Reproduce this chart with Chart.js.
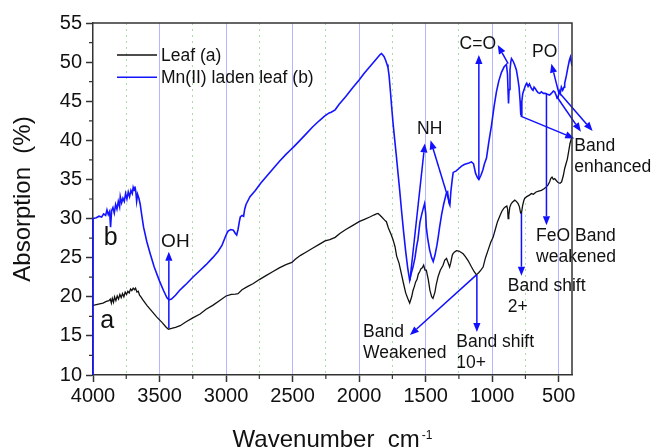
<!DOCTYPE html>
<html><head><meta charset="utf-8">
<script src="https://cdn.jsdelivr.net/npm/chart.js@4/dist/chart.umd.min.js"></script>
<style>html,body{margin:0;padding:0;background:#fff;}canvas{display:block;}</style>
</head><body>
<canvas id="c" width="656" height="447"></canvas>
<script>
// ---------- data (wavenumber cm-1 / absorption %) ----------
const leafX = [4000,3975,3950,3925,3900,3880,3870,3862,3855,3846,3838,3828,3818,3808,3798,3788,3778,3768,3758,3748,3738,3728,3718,3708,3698,3688,3680,3670,3660,3650,3640,3625,3595,3560,3520,3480,3450,3433,3410,3380,3345,3300,3250,3195,3150,3100,3050,3000,2960,2930,2910,2880,2840,2795,2750,2700,2650,2600,2550,2520,2505,2480,2440,2400,2350,2300,2256,2220,2180,2145,2100,2050,2000,1960,1920,1890,1870,1858,1845,1830,1808,1795,1780,1760,1745,1730,1718,1700,1683,1665,1650,1635,1620,1605,1595,1585,1575,1565,1555,1545,1535,1525,1515,1505,1495,1480,1468,1455,1445,1430,1420,1406,1390,1370,1356,1343,1330,1320,1312,1300,1293,1280,1268,1250,1235,1218,1200,1180,1155,1135,1118,1100,1085,1068,1050,1030,1010,993,975,960,943,928,913,900,890,884,880,875,868,860,848,830,818,805,795,786,780,772,762,755,740,720,705,690,670,650,630,610,593,580,568,560,550,540,530,520,505,490,478,465,455,445,435,425,415,405,400];
const leafY = [18.9,19.0,19.1,19.2,19.4,19.5,19.7,19.2,19.8,19.3,20.0,19.5,20.1,19.7,20.3,19.9,20.4,20.0,20.6,20.3,20.7,20.5,21.0,20.8,21.1,20.9,21.1,20.6,20.7,20.2,20.0,19.6,18.9,18.2,17.4,16.7,16.1,15.85,15.95,16.1,16.3,16.8,17.3,17.8,18.4,18.9,19.5,20.1,20.3,20.35,20.4,20.9,21.3,21.7,22.2,22.7,23.2,23.7,24.1,24.3,24.4,24.8,25.3,25.7,26.2,26.7,27.15,27.3,27.6,28.1,28.6,29.1,29.6,29.9,30.2,30.45,30.6,30.65,30.45,30.2,29.8,29.6,28.8,28.0,27.3,26.4,25.2,24.3,23.0,21.6,20.5,19.8,19.2,20.0,20.8,21.3,21.9,22.2,22.9,23.2,23.6,23.7,24.05,23.4,23.4,22.2,20.85,20.0,19.8,20.6,21.6,22.6,23.4,24.0,24.7,24.9,24.3,23.8,24.3,25.3,25.55,25.75,25.9,25.85,25.7,25.5,25.1,24.6,23.8,23.2,22.8,23.1,23.4,23.8,25.0,26.0,27.0,27.6,28.7,29.6,30.3,30.9,31.3,31.5,31.6,31.2,30.0,30.4,31.4,31.8,32.1,32.35,32.2,31.9,31.5,30.7,30.65,31.6,32.3,32.6,32.8,33.0,33.2,33.1,33.4,33.5,33.6,33.8,34.05,34.3,34.7,35.1,35.3,35.0,35.1,34.9,34.6,34.5,34.7,35.5,36.4,37.0,37.6,38.6,39.6,40.2,40.3];

const mnX = [4000,3975,3955,3935,3920,3905,3895,3885,3875,3868,3860,3850,3840,3830,3820,3810,3800,3795,3785,3775,3765,3755,3745,3735,3725,3715,3705,3698,3690,3685,3678,3672,3665,3655,3645,3635,3620,3595,3570,3540,3500,3470,3445,3430,3410,3380,3350,3320,3295,3250,3200,3150,3100,3060,3030,3000,2985,2965,2945,2930,2920,2910,2900,2893,2880,2868,2860,2850,2820,2780,2740,2700,2650,2600,2550,2520,2490,2450,2400,2350,2300,2260,2225,2210,2180,2150,2100,2050,2000,1960,1920,1880,1850,1840,1832,1822,1812,1800,1790,1783,1775,1765,1755,1745,1732,1720,1707,1695,1680,1665,1650,1635,1620,1608,1595,1580,1568,1558,1543,1530,1518,1508,1500,1495,1485,1470,1455,1443,1430,1415,1405,1395,1380,1365,1345,1335,1325,1318,1310,1300,1293,1270,1250,1230,1210,1193,1175,1155,1140,1125,1110,1100,1085,1070,1058,1043,1025,1005,985,968,950,930,910,893,885,880,877,873,866,860,855,845,832,818,808,798,790,785,781,777,770,760,750,740,730,720,710,700,693,685,675,665,655,643,630,615,600,585,568,555,540,530,520,512,505,495,488,480,470,460,455,442,430,420,412,405,400];
const mnY = [30.0,30.1,30.3,30.2,30.6,30.4,31.1,30.5,30.9,28.9,31.0,31.4,30.7,31.8,31.2,32.2,31.5,32.8,32.0,32.6,32.2,33.2,32.5,33.4,32.8,33.6,33.2,34.0,33.6,34.1,33.4,32.2,33.1,32.6,31.8,30.6,28.9,27.0,25.5,23.8,22.0,20.8,19.9,19.6,19.7,20.2,20.8,21.3,21.7,22.5,23.3,24.1,25.0,25.8,26.6,27.9,28.4,28.6,28.5,28.1,27.9,28.6,29.6,30.2,30.4,30.3,31.2,31.8,32.8,33.6,34.5,35.3,36.3,37.3,38.2,38.7,39.2,39.9,40.8,41.7,42.5,43.1,43.5,43.6,43.9,44.6,45.6,46.7,47.7,48.6,49.4,50.2,50.8,51.0,51.1,50.9,50.7,50.2,49.7,49.3,48.3,46.3,44.2,42.2,40.0,38.0,35.7,33.6,30.8,28.2,25.8,23.7,22.1,23.0,23.8,25.0,26.4,27.3,29.5,30.5,31.3,31.9,30.7,28.9,27.5,26.0,25.0,24.5,25.3,26.6,27.7,28.9,30.5,31.8,33.2,33.4,32.0,31.7,33.5,35.0,35.9,36.1,36.4,36.7,36.9,37.0,37.1,37.25,37.0,35.8,35.2,35.0,35.5,36.2,37.0,37.7,39.8,41.9,44.4,46.2,47.6,48.7,49.4,49.7,48.5,46.0,44.7,46.5,49.0,50.0,50.45,50.2,49.7,49.0,48.0,46.8,45.0,43.3,43.2,45.0,46.0,46.5,47.0,47.3,46.9,47.2,46.8,46.5,46.4,46.8,46.6,46.3,46.1,46.0,46.2,46.0,46.0,45.9,45.8,46.0,46.3,46.2,45.8,45.4,45.5,46.3,46.0,46.8,46.4,46.8,47.3,48.3,49.4,50.2,50.65,50.0,49.5];

const seriesNames = ['Leaf (a)', 'Mn(II) laden leaf (b)'];
const seriesColors = ['#111111', '#1414ff'];

const xMajorTicks = [4000,3500,3000,2500,2000,1500,1000,500];
const xMinorTicks = [3750,3250,2750,2250,1750,1250,750];
const yMajorTicks = [10,15,20,25,30,35,40,45,50,55];
const yMinorTicks = [12.5,17.5,22.5,27.5,32.5,37.5,42.5,47.5,52.5];

// annotation text: [wavenumber, absorption] of first line's left baseline
const labelTexts = [['b'],['a'],['OH'],['C=O'],['NH'],['PO'],['Band','enhanced'],['FeO Band','weakened'],['Band shift','2+'],['Band shift','10+'],['Band','Weakened']];
const labelAnchors = [[3920,26.6],[3945,15.95],[3488,26.4],[1245,51.64],[1565,40.76],[700,50.6],[383,38.61],[670,27.18],[883,20.79],[1270,13.64],[1970,14.92]];
const labelSizes = [25,25,19,17.5,17.5,17.5,17.5,17.5,17.5,17.5,17.5];

// arrows: tail -> head, in data units
const arrowTails = [[3430,16.0],[1618,22.1],[1318,31.9],[1100,35.0],[880,49.8],[497,45.9],[786,43.1],[515,45.6],[490,46.0],[592,46.0],[780,30.7],[1115,22.8],[1118,22.8]];
const arrowHeads = [[3430,25.75],[1506,39.6],[1463,40.0],[1100,50.9],[958,52.2],[555,49.8],[383,40.25],[333,41.1],[245,41.2],[592,29.15],[780,22.7],[1115,15.5],[1618,15.1]];

const FONT = '"Liberation Sans", Arial, Helvetica, sans-serif';
const AXIS_COLOR = '#333333';

function isMajorX(v){ return xMajorTicks.includes(v); }
function isMajorY(v){ return yMajorTicks.includes(v); }

function drawArrow(ctx, x1, y1, x2, y2){
  const a = Math.atan2(y2 - y1, x2 - x1);
  const L = 9, W = 3.6;
  const bx = x2 - L * Math.cos(a), by = y2 - L * Math.sin(a);
  ctx.beginPath(); ctx.moveTo(x1, y1); ctx.lineTo(bx, by); ctx.stroke();
  ctx.beginPath();
  ctx.moveTo(x2, y2);
  ctx.lineTo(bx + W * Math.sin(a), by - W * Math.cos(a));
  ctx.lineTo(bx - W * Math.sin(a), by + W * Math.cos(a));
  ctx.closePath(); ctx.fill();
}

const decorPlugin = {
  id: 'decor',
  afterDatasetsDraw(chart){
    const {ctx, scales: {x, y}} = chart;
    ctx.save();
    // curve b vertical start along the left axis
    ctx.strokeStyle = seriesColors[1]; ctx.lineWidth = 1.6;
    ctx.beginPath(); ctx.moveTo(x.getPixelForValue(4000), y.getPixelForValue(10));
    ctx.lineTo(x.getPixelForValue(4000), y.getPixelForValue(mnY[0])); ctx.stroke();
    // arrows
    ctx.strokeStyle = '#1010ff'; ctx.fillStyle = '#1010ff'; ctx.lineWidth = 1.5;
    for (let i = 0; i < arrowTails.length; i++){
      drawArrow(ctx, x.getPixelForValue(arrowTails[i][0]), y.getPixelForValue(arrowTails[i][1]),
                     x.getPixelForValue(arrowHeads[i][0]), y.getPixelForValue(arrowHeads[i][1]));
    }
    // annotation texts
    ctx.fillStyle = '#111'; ctx.textAlign = 'left'; ctx.textBaseline = 'alphabetic';
    for (let i = 0; i < labelTexts.length; i++){
      ctx.font = labelSizes[i] + 'px ' + FONT;
      const px = x.getPixelForValue(labelAnchors[i][0]);
      const py = y.getPixelForValue(labelAnchors[i][1]);
      labelTexts[i].forEach((t, k) => ctx.fillText(t, px, py + k * 21));
    }
    ctx.restore();
  },
  afterDraw(chart){
    const {ctx, chartArea: ca, scales: {x, y}} = chart;
    ctx.save();
    // frame top & right
    ctx.strokeStyle = AXIS_COLOR; ctx.lineWidth = 1.5;
    ctx.beginPath();
    ctx.moveTo(ca.left, ca.top); ctx.lineTo(ca.right, ca.top); ctx.lineTo(ca.right, ca.bottom);
    ctx.stroke();
    // minor ticks
    ctx.lineWidth = 1.2;
    ctx.beginPath();
    xMinorTicks.forEach(v => { const px = x.getPixelForValue(v); ctx.moveTo(px, ca.bottom); ctx.lineTo(px, ca.bottom + 4); });
    yMinorTicks.forEach(v => { const py = y.getPixelForValue(v); ctx.moveTo(ca.left, py); ctx.lineTo(ca.left - 4, py); });
    ctx.stroke();
    // legend
    const lx = ca.left + 24, ly = ca.top + 32;
    ctx.font = '17.5px ' + FONT; ctx.textBaseline = 'middle'; ctx.textAlign = 'left';
    seriesNames.forEach((n, i) => {
      const yy = ly + i * 22.3;
      ctx.strokeStyle = seriesColors[i]; ctx.lineWidth = 1.4;
      ctx.beginPath(); ctx.moveTo(lx, yy); ctx.lineTo(lx + 40, yy); ctx.stroke();
      ctx.fillStyle = '#111'; ctx.fillText(n, lx + 44, yy + 1);
    });
    // x-axis title with superscript
    const main = 'Wavenumber  cm', sup = '-1';
    ctx.fillStyle = '#111'; ctx.textBaseline = 'alphabetic';
    ctx.font = '24px ' + FONT; const w1 = ctx.measureText(main).width;
    ctx.font = '12px ' + FONT; const w2 = ctx.measureText(sup).width;
    const cx = (ca.left + ca.right) / 2;
    const sx = cx - (w1 + 2 + w2) / 2;
    ctx.font = '24px ' + FONT; ctx.fillText(main, sx, 446.5);
    ctx.font = '12px ' + FONT; ctx.fillText(sup, sx + w1 + 2, 438.5);
    ctx.restore();
  }
};

const chart = new Chart(document.getElementById('c').getContext('2d'), {
  type: 'line',
  data: {
    datasets: [
      { label: seriesNames[0], data: leafX.map((v, i) => ({x: v, y: leafY[i]})),
        borderColor: seriesColors[0], borderWidth: 1.3, pointRadius: 0, tension: 0, fill: false, order: 2 },
      { label: seriesNames[1], data: mnX.map((v, i) => ({x: v, y: mnY[i]})),
        borderColor: seriesColors[1], borderWidth: 1.6, pointRadius: 0, tension: 0, fill: false, order: 1 }
    ]
  },
  options: {
    responsive: false, animation: false, devicePixelRatio: 1,
    layout: { padding: { top: 23, right: 84, left: 0, bottom: 0 } },
    plugins: { legend: { display: false }, tooltip: { enabled: false } },
    scales: {
      x: {
        type: 'linear', reverse: true, min: 400, max: 4000,
        afterBuildTicks: s => { s.ticks = xMajorTicks.concat(xMinorTicks).sort((a, b) => a - b).map(v => ({value: v})); },
        afterFit: s => { s.height = 72; },
        ticks: { autoSkip: false, maxRotation: 0, padding: 2, color: '#111', font: { family: FONT, size: 20 },
                 callback: v => isMajorX(v) ? String(v) : '' },
        grid: {
          lineWidth: 1, tickLength: 7, tickWidth: 1.5,
          color: c => (!c.tick || c.tick.value === 4000) ? 'rgba(0,0,0,0)' : (isMajorX(c.tick.value) ? '#b4b4ff' : '#a8dca8'),
          tickColor: c => (c.tick && isMajorX(c.tick.value)) ? AXIS_COLOR : 'rgba(0,0,0,0)'
        },
        border: { color: AXIS_COLOR, width: 1.5, dash: c => (c.tick && !isMajorX(c.tick.value)) ? [2, 4] : [] }
      },
      y: {
        min: 10, max: 55,
        afterBuildTicks: s => { s.ticks = yMajorTicks.concat(yMinorTicks).sort((a, b) => a - b).map(v => ({value: v})); },
        afterFit: s => { s.width = 93; },
        ticks: { autoSkip: false, padding: 4, color: '#111', font: { family: FONT, size: 20 },
                 callback: v => isMajorY(v) ? String(v) : '' },
        grid: { drawOnChartArea: false, tickLength: 7, tickWidth: 1.5,
                tickColor: c => (c.tick && isMajorY(c.tick.value)) ? AXIS_COLOR : 'rgba(0,0,0,0)' },
        border: { color: AXIS_COLOR, width: 1.5 },
        title: { display: true, text: 'Absorption  (%)', color: '#111', font: { family: FONT, size: 24 }, padding: { top: 9, bottom: 0 } }
      }
    }
  },
  plugins: [decorPlugin]
});
</script>
</body></html>
